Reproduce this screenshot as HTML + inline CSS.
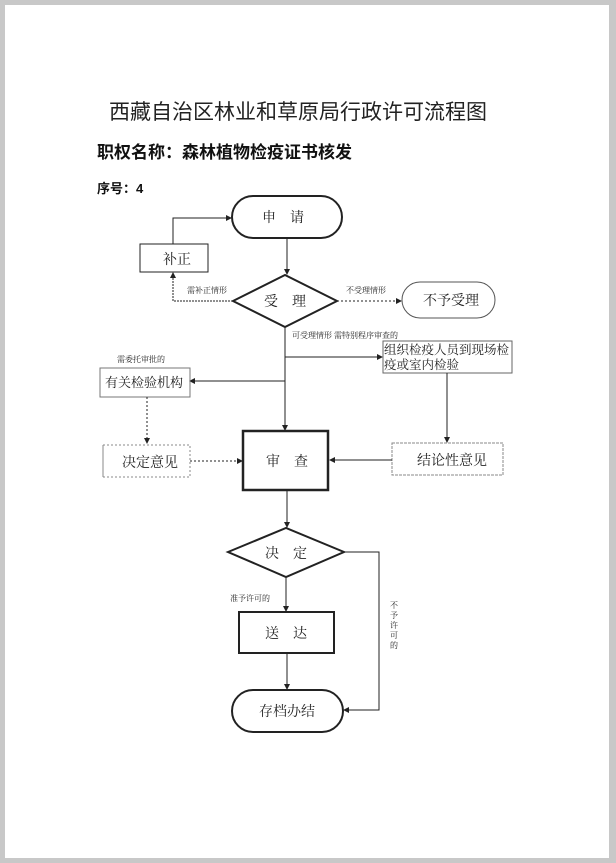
<!DOCTYPE html>
<html><head><meta charset="utf-8"><style>
html,body{margin:0;padding:0;background:#c8c8c8;}
.page{position:absolute;left:5px;top:5px;width:604px;height:853px;background:#fff;}
svg{position:absolute;left:0;top:0;}
text{font-family:"Liberation Serif","Noto Serif CJK SC","Noto Sans CJK SC",serif;fill:#222;}
.b{font-family:"Liberation Sans","Noto Sans CJK SC",sans-serif;font-weight:bold;fill:#111;}
</style></head><body>
<div class="page"></div>
<svg width="616" height="863" viewBox="0 0 616 863">
<defs><marker id="a" markerWidth="6" markerHeight="6" refX="5" refY="3" orient="auto" markerUnits="userSpaceOnUse"><path d="M0,0 L6,3 L0,6 z" fill="#222"/></marker></defs>
<text x="109" y="119" font-size="21" style="font-family:'Liberation Sans','Noto Sans CJK SC',sans-serif">西藏自治区林业和草原局行政许可流程图</text>
<text class="b" x="97" y="158" font-size="17">职权名称：森林植物检疫证书核发</text>
<text class="b" x="97" y="193" font-size="13">序号：4</text>

<g fill="none" stroke="#222" stroke-width="1">
<rect x="232" y="196" width="110" height="42" rx="21" stroke-width="2"/>
<rect x="140" y="244" width="68" height="28"/>
<path d="M173 244 V218 H231" marker-end="url(#a)"/>
<path d="M287 238 V274" marker-end="url(#a)"/>
<polygon points="233,301 285,275 337,301 285,327" stroke-width="2"/>
<path d="M233 301 H173 V273" stroke-dasharray="2,1" marker-end="url(#a)"/>
<path d="M337 301 H401" stroke-dasharray="2,2" marker-end="url(#a)"/>
<rect x="402" y="282" width="93" height="36" rx="18" stroke="#555"/>
<path d="M285 327 V430" marker-end="url(#a)"/>
<path d="M285 357 H382" marker-end="url(#a)"/>
<rect x="383" y="341" width="129" height="32" stroke="#666"/>
<path d="M285 381 H190" marker-end="url(#a)"/>
<rect x="100" y="368" width="90" height="29" stroke="#777"/>
<path d="M147 397 V443" stroke-dasharray="2,2" marker-end="url(#a)"/>
<path d="M103 445 V477" stroke="#888"/>
<path d="M103 445 H190 V477 H103" stroke="#888" stroke-dasharray="2,2"/>
<path d="M190 461 H242" stroke-dasharray="2,2" marker-end="url(#a)"/>
<rect x="243" y="431" width="85" height="59" stroke-width="2.5"/>
<path d="M447 373 V442" marker-end="url(#a)"/>
<rect x="392" y="443" width="111" height="32" stroke="#888" stroke-dasharray="3,1"/>
<path d="M392 460 H330" marker-end="url(#a)"/>
<path d="M287 490 V527" marker-end="url(#a)"/>
<polygon points="228,552 286,528 344,552 286,577" stroke-width="2"/>
<path d="M286 577 V611" marker-end="url(#a)"/>
<rect x="239" y="612" width="95" height="41" stroke-width="2"/>
<path d="M287 653 V689" marker-end="url(#a)"/>
<path d="M344 552 H379 V710 H344" marker-end="url(#a)"/>
<rect x="232" y="690" width="111" height="42" rx="21" stroke-width="2"/>
</g>

<g font-size="14">
<text x="262" y="222">申　请</text>
<text x="163" y="264">补正</text>
<text x="264" y="306">受　理</text>
<text x="423" y="305">不予受理</text>
<text x="384" y="354" font-size="12.5">组织检疫人员到现场检</text>
<text x="384" y="369" font-size="12.5">疫或室内检验</text>
<text x="105" y="387" font-size="13">有关检验机构</text>
<text x="122" y="467">决定意见</text>
<text x="266" y="466">审　查</text>
<text x="417" y="465">结论性意见</text>
<text x="265" y="558">决　定</text>
<text x="265" y="638">送　达</text>
<text x="259" y="716">存档办结</text>
</g>
<g font-size="8" fill="#333">
<text x="187" y="293">需补正情形</text>
<text x="346" y="293">不受理情形</text>
<text x="292" y="338">可受理情形  需特别程序审查的</text>
<text x="117" y="362">需委托审批的</text>
<text x="230" y="601">准予许可的</text>
<text x="390" y="608">不</text><text x="390" y="618">予</text><text x="390" y="628">许</text><text x="390" y="638">可</text><text x="390" y="648">的</text>
</g>
</svg>
</body></html>
